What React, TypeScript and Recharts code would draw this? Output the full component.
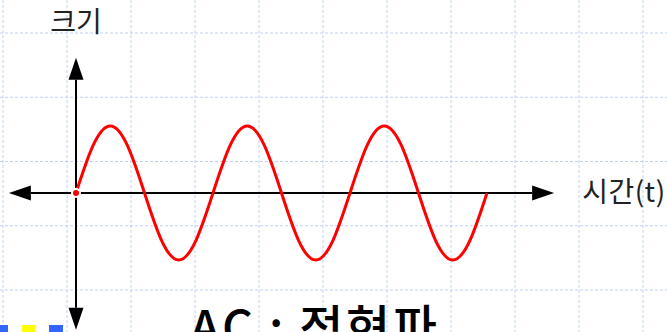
import { LineChart, Line, XAxis, YAxis, CartesianGrid, ReferenceLine } from "recharts";

// time in periods, amplitude
const TIME = [
  0, 0.125, 0.25, 0.375, 0.5, 0.625, 0.75, 0.875,
  1, 1.125, 1.25, 1.375, 1.5, 1.625, 1.75, 1.875,
  2, 2.125, 2.25, 2.375, 2.5, 2.625, 2.75, 2.875, 3,
];
const SIGNAL = [
  0, 0.71, 1, 0.71, 0, -0.71, -1, -0.71,
  0, 0.71, 1, 0.71, 0, -0.71, -1, -0.71,
  0, 0.71, 1, 0.71, 0, -0.71, -1, -0.71, 0,
];
const X_AXIS_RANGE = [-0.49, 3.49];
const Y_AXIS_RANGE = [-2.04, 2.02];
const Y_LABEL = "크기";
const X_LABEL = "시간(t)";
const TITLE = "AC : 정현파";

const W = 667;
const H = 332;
const FONT = "'Noto Sans CJK KR', 'Noto Sans', sans-serif";
const GRID_X = Array.from({ length: 11 }, (_, i) => 3 + i * 64);
const GRID_Y = Array.from({ length: 5 }, (_, i) => 33 + i * 64.25);

const data = TIME.map((t, i) => ({ t, v: SIGNAL[i] }));

function Arrow(props: any) {
  const { x1, y1, x2, y2, label, vertical } = props;
  const len = 22;
  const hw = 7.5;
  if (vertical) {
    const top = Math.min(y1, y2);
    const bot = Math.max(y1, y2);
    return (
      <g>
        <line x1={x1} y1={top + len} x2={x1} y2={bot - len} stroke="#000" strokeWidth={2} />
        <polygon points={`${x1},${top} ${x1 - hw},${top + len} ${x1 + hw},${top + len}`} fill="#000" />
        <polygon points={`${x1},${bot} ${x1 - hw},${bot - len} ${x1 + hw},${bot - len}`} fill="#000" />
        <text x={x1} y={top - 26} textAnchor="middle" fontSize={28} fontFamily={FONT} fill="#222">{label}</text>
      </g>
    );
  }
  const l = Math.min(x1, x2);
  const r = Math.max(x1, x2);
  return (
    <g>
      <line x1={l + len} y1={y1} x2={r - len} y2={y1} stroke="#000" strokeWidth={2} />
      <polygon points={`${l},${y1} ${l + len},${y1 - hw} ${l + len},${y1 + hw}`} fill="#000" />
      <polygon points={`${r},${y1} ${r - len},${y1 - hw} ${r - len},${y1 + hw}`} fill="#000" />
      <text x={r + 28} y={y1 + 9} fontSize={28} fontFamily={FONT} fill="#222" textLength={83} lengthAdjust="spacing">{label}</text>
    </g>
  );
}

export default function App() {
  return (
    <div style={{ position: "absolute", left: 0, top: 0, width: W, height: H, overflow: "hidden", background: "#fff" }}>
      <LineChart width={W} height={H} data={data} margin={{ top: 0, right: 0, bottom: 0, left: 0 }}>
        <CartesianGrid stroke="#c2d0f8" strokeDasharray="3 2" verticalPoints={GRID_X} horizontalPoints={GRID_Y} />
        <XAxis type="number" dataKey="t" domain={[-76 / 137, (W - 76) / 137]} hide allowDataOverflow />
        <YAxis type="number" domain={[-(H - 193) / 67, 193 / 67]} hide allowDataOverflow />
        <ReferenceLine
          segment={[{ x: X_AXIS_RANGE[0], y: 0 }, { x: X_AXIS_RANGE[1], y: 0 }]}
          shape={(p: any) => <Arrow {...p} label={X_LABEL} />}
        />
        <ReferenceLine
          segment={[{ x: 0, y: Y_AXIS_RANGE[0] }, { x: 0, y: Y_AXIS_RANGE[1] }]}
          shape={(p: any) => <Arrow {...p} label={Y_LABEL} vertical />}
        />
        <Line type="natural" dataKey="v" stroke="#ff0000" strokeWidth={3} dot={false} isAnimationActive={false} />
      </LineChart>
      <svg width={W} height={H} style={{ position: "absolute", left: 0, top: 0, pointerEvents: "none" }}>
        <text x={190} y={345} fontSize={48} fontWeight={500} fontFamily={FONT} fill="#000" textLength={247} lengthAdjust="spacing">
          {TITLE}
        </text>
      </svg>
      <div style={{ position: "absolute", left: 0, top: 325, width: 8, height: 7, background: "#3366ff" }} />
      <div style={{ position: "absolute", left: 22, top: 325, width: 13, height: 7, background: "#ffff00" }} />
      <div style={{ position: "absolute", left: 49, top: 325, width: 14, height: 7, background: "#3366ff" }} />
    </div>
  );
}
